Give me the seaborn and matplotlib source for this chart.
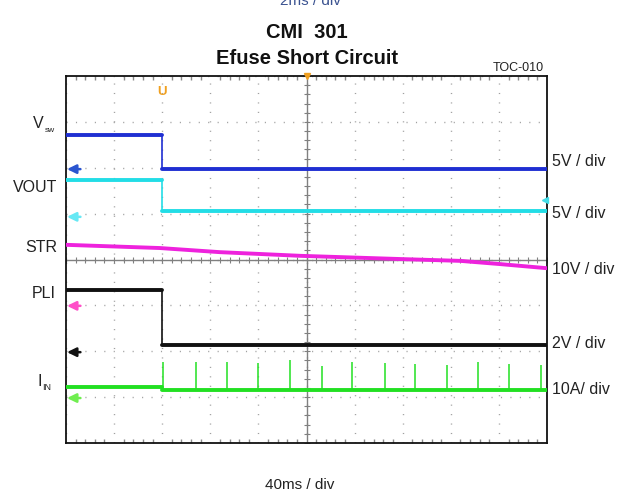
import numpy as np
import pandas as pd
import seaborn as sns
import matplotlib.pyplot as plt

# time axis in ms (40 ms / div, 10 div), levels in screen divisions (0..8)
t_step = 80
vsw_level = [6.71, 5.97]
vout_level = [5.73, 5.06]
pli_level = [3.34, 2.14]
iin_level = [1.22, 1.16]
str_t = [0, 78, 128, 195, 278, 328, 361, 400]
str_level = [4.32, 4.25, 4.16, 4.08, 4.01, 3.97, 3.90, 3.81]
spike_t = [81, 108, 134, 160, 186, 213, 238, 265, 290, 317, 343, 368, 395]
spike_top = [1.77, 1.77, 1.77, 1.74, 1.81, 1.68, 1.77, 1.74, 1.72, 1.70, 1.77, 1.72, 1.70]

channels = ['Vsw', 'VOUT', 'STR', 'PLI', 'IIN']
colors = ['#1f2fd2', '#22dde6', '#ee22dd', '#111111', '#22e022']
marker_level = [5.97, 4.93, 2.99, 1.98, 0.98]
marker_colors = ['#2a55d0', '#66e8f4', '#ff4fc8', '#111111', '#70ee50']
scales = ['5V / div', '5V / div', '10V / div', '2V / div', '10A/ div']

# flat segments before / after the short-circuit event
rows = []
steps = [('Vsw', vsw_level), ('VOUT', vout_level), ('PLI', pli_level), ('IIN', iin_level)]
for name, lv in steps:
    rows += [(name, 'a', 0, lv[0]), (name, 'a', t_step, lv[0]),
             (name, 'b', t_step, lv[1]), (name, 'b', 400, lv[1])]
rows += [('STR', 'a', t, v) for t, v in zip(str_t, str_level)]
df = pd.DataFrame(rows, columns=['channel', 'seg', 'time', 'level'])

sns.set_theme(style='white')
plt.rcParams['font.family'] = ['Liberation Sans', 'DejaVu Sans']

fig = plt.figure(figsize=(6.24, 4.93), dpi=100)
ax = fig.add_axes([66 / 624, 50 / 493, 481 / 624, 367 / 493])

# scope graticule
ax.set_xlim(0, 400)
ax.set_ylim(0, 8)
ax.set_xticks(np.arange(0, 401, 40))
ax.set_yticks(np.arange(0, 9, 1))
ax.set_xticks(np.arange(0, 401, 8), minor=True)
ax.set_xticklabels([])
ax.set_yticklabels([])
ax.tick_params(which='major', length=0)
ax.tick_params(which='minor', direction='in', length=3, color='#8a8a8a',
               top=True, bottom=True, left=False, right=False)
ax.grid(True, which='major', color='#a0a0a0', ls=(0, (0.8, 6.0)), lw=1.0)
ax.axvline(200, color='#808080', lw=1.0, zorder=1)
ax.axhline(4, color='#808080', lw=1.0, zorder=1)
cx = np.arange(0, 401, 8)
ax.plot(cx, np.full(len(cx), 4.0), ls='none', marker='|', ms=5, color='#808080', mew=0.8)
cy = np.arange(0, 8.01, 0.2)
ax.plot(np.full(len(cy), 200.0), cy, ls='none', marker='_', ms=5, color='#808080', mew=0.8)
for s in ax.spines.values():
    s.set_color('#111111')
    s.set_linewidth(1.3)

sns.lineplot(data=df, x='time', y='level', hue='channel', hue_order=channels,
             units='seg', palette=colors, estimator=None, sort=False, lw=2.8,
             legend=False, ax=ax, zorder=3)
ax.set_xlabel('')
ax.set_ylabel('')

# thin edges at the event and the current spikes
cmap = dict(zip(channels, colors))
for name, lv in steps:
    ax.vlines(t_step, min(lv), max(lv), color=cmap[name], lw=1.2, zorder=3)
ax.vlines(spike_t, iin_level[1], spike_top, color=cmap['IIN'], lw=1.1, zorder=3)

# ground reference arrows
for lv, c in zip(marker_level, marker_colors):
    ax.annotate('', xy=(0.8, lv), xytext=(12, lv),
                arrowprops=dict(arrowstyle='-|>,head_width=0.22,head_length=0.45',
                                color=c, lw=1.8, shrinkA=0, shrinkB=0))

# trigger markers
ax.text(t_step, 7.65, 'U', color='#f0a020', fontsize=9.5, fontweight='bold',
        ha='center', va='center')
ax.plot([200], [8], marker='v', color='#f0a020', ms=5, clip_on=False, zorder=5)
ax.plot([398], [5.3], marker='<', color='#44dde8', ms=4, clip_on=False, zorder=5)

def px(x, y):
    return x / 624, 1 - y / 493

tc = '#222222'
fig.text(*px(310, 5), '2ms / div', color='#3a5290', fontsize=11, ha='center', va='baseline')
fig.text(*px(307, 33), 'CMI  301', fontsize=14.5, fontweight='bold', ha='center', va='center', color='#111111')
fig.text(*px(307, 58), 'Efuse Short Circuit', fontsize=14.5, fontweight='bold', ha='center', va='center', color='#111111')
fig.text(*px(518, 68), 'TOC-010', fontsize=9, ha='center', va='center', color=tc)
fig.text(*px(300, 485), '40ms / div', fontsize=11, ha='center', va='center', color=tc)

# left channel names
fig.text(*px(44, 123), 'V', fontsize=11.5, ha='right', va='center', color=tc)
fig.text(*px(45, 131), 'sw', fontsize=6, ha='left', va='center', color=tc)
fig.text(*px(57, 187), 'VOUT', fontsize=11.5, ha='right', va='center', color=tc)
fig.text(*px(57, 247), 'STR', fontsize=11.5, ha='right', va='center', color=tc)
fig.text(*px(56, 294), 'PLI', fontsize=11.5, ha='right', va='center', color=tc)
fig.text(*px(42, 382), 'I', fontsize=11.5, ha='right', va='center', color=tc)
fig.text(*px(42, 388), 'IN', fontsize=6.5, ha='left', va='center', color=tc)

# right scale labels
for lab, y in zip(scales, [161, 213, 270, 343, 389]):
    fig.text(*px(552, y), lab, fontsize=11.5, ha='left', va='center', color=tc)

fig.savefig('out.png', dpi=100)
